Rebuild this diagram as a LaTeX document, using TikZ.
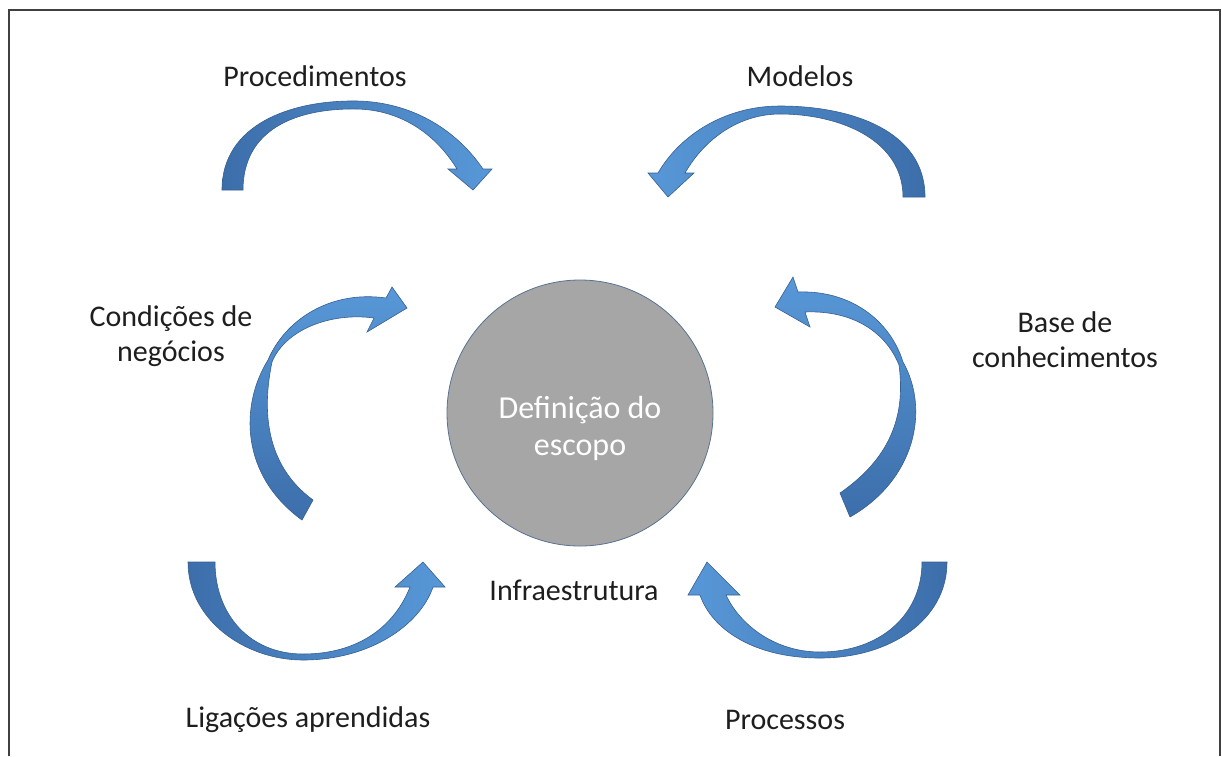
\documentclass[tikz,border=0pt]{standalone}
\usepackage{fontspec}
\setmainfont{Carlito}
\definecolor{arrdark}{RGB}{60,110,170}
\definecolor{arrlight}{RGB}{88,152,216}
\definecolor{arredge}{RGB}{55,95,145}
\definecolor{circfill}{RGB}{166,166,166}
\definecolor{circedge}{RGB}{90,115,145}
\definecolor{labtext}{RGB}{30,30,30}
\begin{document}
\begin{tikzpicture}[x=1pt,y=-1pt,
  lab/.style={text=labtext,align=center,font=\fontsize{30}{35}\selectfont,inner sep=0pt},
  ribbon/.style={draw=arredge,line width=0.6pt},
  frameline/.style={draw=black!75,line width=1.6pt}]
\useasboundingbox (0,0) rectangle (1222,756);
\fill[white] (0,0) rectangle (1222,756);
\draw[frameline] (9,756) -- (9,10) -- (1220,10) -- (1220,756);

% centre
\node[circle,fill=circfill,draw=circedge,line width=0.8pt,minimum size=266pt,inner sep=0pt] (core) at (580,413) {};
\node[text=white,align=center,font=\fontsize{32}{37}\selectfont,inner sep=0pt] (coretext) at (580,428) {Definição do\\escopo};

% labels
\node[lab] (proc) at (315,76) {Procedimentos};
\node[lab] (mod) at (800,76) {Modelos};
\node[lab] (cond) at (171,336) {Condições de\\negócios};
\node[lab] (base) at (1065,340) {Base de\\conhecimentos};
\node[lab] (infra) at (574,590) {Infraestrutura};
\node[lab] (lig) at (308,720) {Ligações aprendidas};
\node[lab] (procs) at (785,720) {Processos};

% arrow 1 (top left)
\shade[ribbon,left color=arrdark,right color=arrlight]
 (222,190) .. controls (222,125) and (290,100) .. (357,101)
 .. controls (410,102) and (455,128) .. (483,169) -- (492,169) -- (473,190) -- (448,169) -- (457,169)
 .. controls (435,133) and (400,110) .. (357,109)
 .. controls (295,108) and (243,130) .. (243,190) -- cycle;

% arrow 2 (top right)
\shade[ribbon,left color=arrlight,right color=arrdark]
 (925,197) .. controls (925,130) and (850,106) .. (780,106)
 .. controls (725,106) and (680,135) .. (658,173) -- (648,173) -- (668,197) -- (694,173) -- (685,173)
 .. controls (705,138) and (740,114) .. (780,114)
 .. controls (840,114) and (903,140) .. (903,197) -- cycle;

% arrow 3 (left middle)
\shade[ribbon,top color=arrlight,bottom color=arrdark]
 (302,520) .. controls (240,475) and (240,405) .. (268,360)
 .. controls (285,320) and (330,290) .. (386,298) -- (392,287) -- (407,308) -- (367,332) -- (374,318)
 .. controls (330,312) and (285,330) .. (272,362)
 .. controls (262,410) and (265,465) .. (313,500) -- cycle;

% arrow 4 (right middle)
\shade[ribbon,top color=arrlight,bottom color=arrdark]
 (850,517) .. controls (915,480) and (930,410) .. (903,362)
 .. controls (890,320) and (850,290) .. (798,292) -- (793,277) -- (775,307) -- (810,327) -- (805,312)
 .. controls (850,310) and (885,330) .. (899,365)
 .. controls (905,410) and (895,455) .. (840,493) -- cycle;

% arrow 5 (bottom left)
\shade[ribbon,left color=arrdark,right color=arrlight]
 (188,562) .. controls (188,620) and (245,660) .. (303,660)
 .. controls (370,660) and (420,625) .. (433,587) -- (445,587) -- (423,562) -- (395,587) -- (410,587)
 .. controls (395,625) and (360,654) .. (303,654)
 .. controls (250,654) and (215,615) .. (215,562) -- cycle;

% arrow 6 (bottom right)
\shade[ribbon,left color=arrlight,right color=arrdark]
 (947,562) .. controls (947,620) and (890,658) .. (820,658)
 .. controls (755,658) and (712,630) .. (700,595) -- (688,595) -- (707,562) -- (740,595) -- (726,595)
 .. controls (740,625) and (775,652) .. (820,652)
 .. controls (880,652) and (922,615) .. (922,562) -- cycle;
\end{tikzpicture}
\end{document}
